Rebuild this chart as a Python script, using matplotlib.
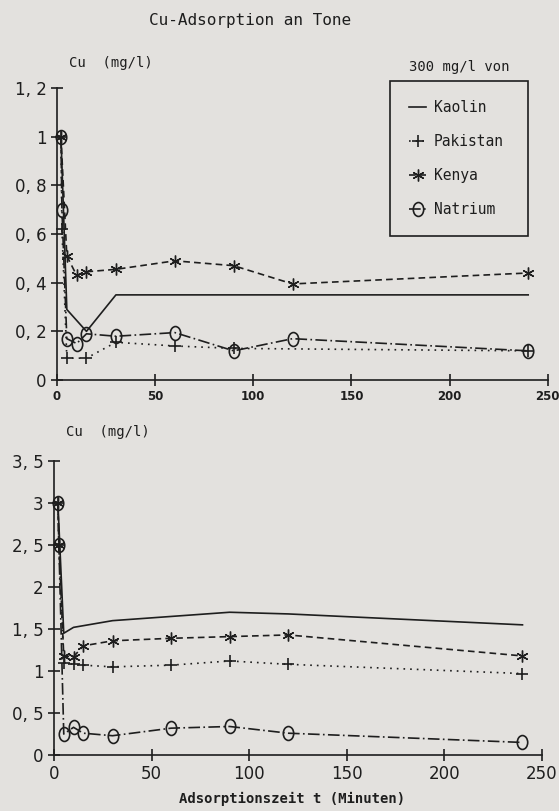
import numpy as np
import matplotlib
matplotlib.use('Agg')
import matplotlib.pyplot as plt
from matplotlib.path import Path

# ── Daten ──────────────────────────────────────────────────────────
# oberes Diagramm
t_kaolin_o = [2, 5, 15, 30, 60, 240]
kaolin_o   = [1.0, 0.29, 0.20, 0.35, 0.35, 0.35]
t_pak_o    = [2, 2.5, 5, 15, 30, 60, 90, 240]
pak_o      = [1.0, 0.62, 0.09, 0.09, 0.155, 0.14, 0.13, 0.12]
t_ken_o    = [2, 5, 10, 15, 30, 60, 90, 120, 240]
ken_o      = [1.0, 0.51, 0.43, 0.445, 0.455, 0.49, 0.47, 0.395, 0.44]
t_nat_o    = [2, 2.5, 5, 10, 15, 30, 60, 90, 120, 240]
nat_o      = [1.0, 0.70, 0.17, 0.15, 0.19, 0.18, 0.195, 0.12, 0.17, 0.12]

# unteres Diagramm
t_kaolin_u = [2, 5, 10, 30, 60, 90, 120, 240]
kaolin_u   = [3.0, 1.45, 1.52, 1.60, 1.65, 1.70, 1.68, 1.55]
t_pak_u    = [2, 2.5, 5, 10, 15, 30, 60, 90, 120, 240]
pak_u      = [3.0, 2.5, 1.10, 1.08, 1.07, 1.05, 1.07, 1.12, 1.08, 0.97]
t_ken_u    = [2, 2.5, 5, 10, 15, 30, 60, 90, 120, 240]
ken_u      = [3.0, 2.5, 1.18, 1.17, 1.30, 1.36, 1.39, 1.41, 1.43, 1.18]
t_nat_u    = [2, 2.5, 5, 10, 15, 30, 60, 90, 120, 240]
nat_u      = [3.0, 2.5, 0.25, 0.33, 0.26, 0.23, 0.32, 0.34, 0.26, 0.15]

labels = ['Kaolin', 'Pakistan', 'Kenya', 'Natrium']
yticks_o = [0, 0.2, 0.4, 0.6, 0.8, 1.0, 1.2]
ylabels_o = ['0', '0, 2', '0, 4', '0, 6', '0, 8', '1', '1, 2']
yticks_u = [0, 0.5, 1, 1.5, 2, 2.5, 3, 3.5]
ylabels_u = ['0', '0, 5', '1', '1, 5', '2', '2, 5', '3', '3, 5']
xticks = [0, 50, 100, 150, 200, 250]

# ── Stil ───────────────────────────────────────────────────────────
bg = '#e3e1de'
ink = '#1e1e1e'
mono = 'DejaVu Sans Mono'

# ovaler Marker für Natrium
circ = Path.unit_circle()
oval = Path(circ.vertices * np.array([0.75, 1.0]), circ.codes)

styles = [
    dict(ls='-', marker=None),
    dict(ls=(0, (1, 3)), marker='+', ms=8, mew=1.2),
    dict(ls=(0, (4, 2.5)), marker=(6, 2, 0), ms=8.5, mew=1.0),
    dict(ls=(0, (7, 2, 1, 2)), marker=oval, ms=10, mew=1.2, mfc='none'),
]

fig = plt.figure(figsize=(5.59, 8.11), dpi=100)
fig.patch.set_facecolor(bg)

ax1 = fig.add_axes([0.102, 0.5314, 0.878, 0.360])
ax2 = fig.add_axes([0.0966, 0.069, 0.873, 0.3625])


def draw(ax, series, yticks, ylabels, ymax, xsize, xbold):
    ax.set_facecolor(bg)
    for (t, y), st in zip(series, styles):
        ax.plot(t, y, color=ink, lw=1.2, mec=ink, clip_on=False, **st)
    ax.set_xlim(0, 250)
    ax.set_ylim(0, ymax)
    ax.set_yticks(yticks)
    ax.set_yticklabels(ylabels, fontsize=12, color=ink)
    ax.set_xticks(xticks)
    ax.set_xticklabels([str(x) for x in xticks], fontsize=xsize, color=ink,
                       fontweight='bold' if xbold else 'normal')
    for s in ['top', 'right']:
        ax.spines[s].set_visible(False)
    for s in ['left', 'bottom']:
        ax.spines[s].set_color(ink)
        ax.spines[s].set_linewidth(1.2)
    ax.tick_params(direction='inout', length=8, width=1.2, color=ink)


draw(ax1, [(t_kaolin_o, kaolin_o), (t_pak_o, pak_o), (t_ken_o, ken_o), (t_nat_o, nat_o)],
     yticks_o, ylabels_o, 1.2, 8.5, True)
draw(ax2, [(t_kaolin_u, kaolin_u), (t_pak_u, pak_u), (t_ken_u, ken_u), (t_nat_u, nat_u)],
     yticks_u, ylabels_u, 3.5, 12, False)

# ── Texte ──────────────────────────────────────────────────────────
fig.text(250 / 559, 1 - 20 / 811, 'Cu-Adsorption an Tone', family=mono,
         fontsize=11.5, ha='center', va='center', color=ink)
fig.text(111 / 559, 1 - 63 / 811, 'Cu  (mg/l)', family=mono,
         fontsize=10, ha='center', va='center', color=ink)
fig.text(108 / 559, 1 - 432 / 811, 'Cu  (mg/l)', family=mono,
         fontsize=10, ha='center', va='center', color=ink)
fig.text(292 / 559, 1 - 799 / 811, 'Adsorptionszeit t (Minuten)', family=mono,
         fontsize=10, ha='center', va='center', color=ink, fontweight='bold')
fig.text(459 / 559, 1 - 67 / 811, '300 mg/l von', family=mono,
         fontsize=10, ha='center', va='center', color=ink)

# Legende: Rahmen 390..528 px, oben bei 81 px
leg = ax1.legend(labels, loc='upper left',
                 bbox_to_anchor=(390 / 559, 1 - 81 / 811, 138 / 559, 0.0),
                 mode='expand', bbox_transform=fig.transFigure,
                 prop={'family': mono, 'size': 10.5},
                 frameon=True, fancybox=False, handlelength=1.2, handletextpad=0.5,
                 labelspacing=1.3, borderpad=1.3, borderaxespad=0)
leg.get_frame().set_edgecolor(ink)
leg.get_frame().set_facecolor(bg)
leg.get_frame().set_linewidth(1.2)
leg.get_frame().set_alpha(1)
for txt in leg.get_texts():
    txt.set_color(ink)

fig.savefig('out.png', dpi=100, facecolor=bg)
